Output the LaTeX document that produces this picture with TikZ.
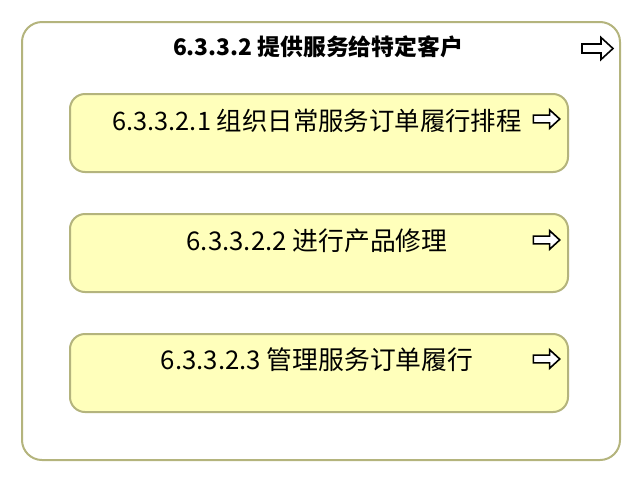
\documentclass[tikz,border=0pt]{standalone}
\usepackage{fontspec}
\newfontfamily\cjk{Noto Sans CJK SC}
\definecolor{olive}{RGB}{180,180,125}
\definecolor{paleyellow}{RGB}{255,255,187}
\tikzset{
  outerbox/.style={draw=olive, line width=2pt, fill=white, rounded corners=20pt, inner sep=0pt, anchor=north west},
  taskbox/.style={draw=olive, line width=2pt, fill=paleyellow, rounded corners=15pt, inner sep=0pt, anchor=north west, minimum width=498pt, minimum height=78pt},
  label/.style={inner sep=0pt, font=\cjk},
  harrow/.pic={\draw[line width=1.6pt, line join=miter, fill=white] (-16,-4.5) -- (3,-4.5) -- (3,-11) -- (15,0) -- (3,11) -- (3,4.5) -- (-16,4.5) -- cycle;}
}
\begin{document}
\begin{tikzpicture}[x=1pt,y=-1pt]
\useasboundingbox (0,0) rectangle (640,480);
\node[outerbox, minimum width=598pt, minimum height=438pt] (outer) at (21,21) {};
\node[label, font=\cjk\bfseries\fontsize{22.8}{27}\selectfont] (title) at (318,47) {6.3.3.2 提供服务给特定客户};
\pic at (598,48.5) {harrow};

\node[taskbox] (b1) at (69,93) {};
\node[label, font=\cjk\fontsize{25.4}{30}\selectfont] (t1) at (317,121) {6.3.3.2.1 组织日常服务订单履行排程};
\pic[scale=0.85] at (547,119) {harrow};

\node[taskbox] (b2) at (69,213) {};
\node[label, font=\cjk\fontsize{25.8}{30}\selectfont] (t2) at (317,241) {6.3.3.2.2 进行产品修理};
\pic[scale=0.85] at (547,240) {harrow};

\node[taskbox] (b3) at (69,333) {};
\node[label, font=\cjk\fontsize{25.8}{30}\selectfont] (t3) at (317,360) {6.3.3.2.3 管理服务订单履行};
\pic[scale=0.85] at (547,359) {harrow};
\end{tikzpicture}
\end{document}
